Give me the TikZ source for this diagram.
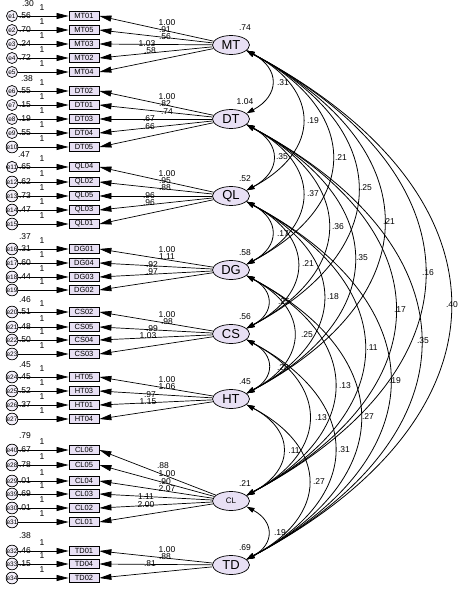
\documentclass[tikz,border=0pt]{standalone}
\usepackage{fontspec}
\setmainfont{Liberation Sans}
\usetikzlibrary{shapes.geometric,arrows.meta}
\definecolor{lav}{RGB}{232,224,244}
\begin{document}
\begin{tikzpicture}[x=1pt,y=-1pt,
  obs/.style={draw,fill=lav,line width=0.8pt,minimum width=30pt,minimum height=9pt,inner sep=0pt,font=\fontsize{7.5}{7.5}\selectfont},
  lat/.style={draw,fill=lav,ellipse,line width=0.7pt,minimum width=37pt,minimum height=19pt,inner sep=0pt,font=\fontsize{13}{13}\selectfont},
  err/.style={draw,fill=lav!50,circle,line width=0.7pt,minimum size=11pt,inner sep=0pt,font=\fontsize{6.5}{6.5}\selectfont},
  lbl/.style={font=\fontsize{8.5}{8.5}\selectfont,inner sep=0pt},
  arr/.style={-{Triangle[length=12pt,width=6pt]},line width=0.7pt},
  cov/.style={{Triangle[length=8pt,width=5pt]}-{Triangle[length=8pt,width=5pt]},line width=0.8pt},
  arc/.style={cov,out=-28,in=28,looseness=1.55},
]
\useasboundingbox (0,0) rectangle (463,589);

% latent variables
\node[lat] (MT) at (231,45) {MT};
\node[lat] (DT) at (231,119) {DT};
\node[lat] (QL) at (231,196) {QL};
\node[lat] (DG) at (231,270) {DG};
\node[lat] (CS) at (231,334) {CS};
\node[lat] (HT) at (231,399) {HT};
\node[lat,font=\fontsize{8}{8}\selectfont] (CL) at (231,501) {CL};
\node[lat] (TD) at (231,565) {TD};

% latent variances
\foreach \n/\v in {MT/.74,DT/1.04,QL/.52,DG/.58,CS/.56,HT/.45,CL/.21,TD/.69}
  \node[lbl] at ([xshift=14pt,yshift=17pt]\n.center) {\v};

% indicators
\foreach \L/\b/\y/\e/\v in {
  MT/MT01/16/e1/.56, MT/MT05/30/e2/.70, MT/MT03/44/e3/.24, MT/MT02/58/e4/.72, MT/MT04/72/e5/,
  DT/DT02/91/e6/.55, DT/DT01/105/e7/.15, DT/DT03/119/e8/.19, DT/DT04/133/e9/.55, DT/DT05/147/e10/,
  QL/QL04/167/e11/.65, QL/QL02/182/e12/.62, QL/QL05/196/e13/.73, QL/QL03/210/e14/.47, QL/QL01/224/e15/,
  DG/DG01/249/e16/.31, DG/DG04/263/e17/.60, DG/DG03/277/e18/.44, DG/DG02/290/e19/,
  CS/CS02/312/e20/.51, CS/CS05/327/e21/.48, CS/CS04/340/e22/.50, CS/CS03/354/e23/,
  HT/HT05/377/e24/.45, HT/HT03/391/e25/.52, HT/HT01/405/e26/.37, HT/HT04/419/e27/,
  CL/CL06/450/e40/.67, CL/CL05/465/e28/.78, CL/CL04/481/e29/.01, CL/CL03/494/e39/.69, CL/CL02/508/e30/.01, CL/CL01/522/e31/,
  TD/TD01/551/e32/.46, TD/TD04/564/e33/.15, TD/TD02/578/e34/}
{
  \node[obs] (\b) at (84,\y) {\b};
  \node[err] (\e) at (12,\y) {\e};
  \draw[arr] (\e) -- (\b.west);
  \draw[arr] (\L) -- (\b.east);
  \node[lbl] at (42,\y-8) {1};
  \node[lbl] at (25,\y) {\v};
}

% error variances (first of each group)
\foreach \x/\y/\v in {28/4/.30, 27/79/.38, 24/155/.47, 25/237/.37, 25/300/.46, 25/365/.45, 25/436/.79, 25/536/.38}
  \node[lbl] at (\x,\y) {\v};

% loadings
\foreach \x/\y/\v in {
  167/23/1.00, 165/30/.91, 165/37/.56, 147/44/1.03, 150/51/.58,
  167/97/1.00, 165/104/.82, 167/112/.74, 149/119/.67, 149/127/.66,
  167/174/1.00, 165/181/.95, 165/188/.88, 149/196/.96, 149/203/.96,
  167/250/1.00, 167/257/1.11, 152/265/.92, 152/272/.97,
  167/315/1.00, 167/322/.98, 152/329/.99, 148/336/1.03,
  167/380/1.00, 167/387/1.06, 150/395/.97, 148/402/1.15,
  163/466/.88, 167/474/1.00, 165/482/.90, 167/489/2.07, 146/497/1.11, 146/505/2.00,
  167/550/1.00, 165/557/.88, 150/564/.81}
  \node[lbl] at (\x,\y) {\v};

% covariances
\draw[arc] (MT.-20) to (DT.20);
\draw[arc] (MT.-20) to (QL.20);
\draw[arc] (MT.-20) to (DG.20);
\draw[arc] (MT.-20) to (CS.20);
\draw[arc] (MT.-20) to (HT.20);
\draw[arc] (MT.-20) to (CL.20);
\draw[arc] (MT.-20) to (TD.20);
\draw[arc] (DT.-20) to (QL.20);
\draw[arc] (DT.-20) to (DG.20);
\draw[arc] (DT.-20) to (CS.20);
\draw[arc] (DT.-20) to (HT.20);
\draw[arc] (DT.-20) to (CL.20);
\draw[arc] (DT.-20) to (TD.20);
\draw[arc] (QL.-20) to (DG.20);
\draw[arc] (QL.-20) to (CS.20);
\draw[arc] (QL.-20) to (HT.20);
\draw[arc] (QL.-20) to (CL.20);
\draw[arc] (QL.-20) to (TD.20);
\draw[arc] (DG.-20) to (CS.20);
\draw[arc] (DG.-20) to (HT.20);
\draw[arc] (DG.-20) to (CL.20);
\draw[arc] (DG.-20) to (TD.20);
\draw[arc] (CS.-20) to (HT.20);
\draw[arc] (CS.-20) to (CL.20);
\draw[arc] (CS.-20) to (TD.20);
\draw[arc] (HT.-20) to (CL.20);
\draw[arc] (HT.-20) to (TD.20);
\draw[arc] (CL.-20) to (TD.20);

\foreach \x/\y/\v in {
  283/83/.31, 313/121/.19, 341/158/.21, 366/188/.25, 389/222/.21, 428/273/.16, 452/305/.40,
  282/157/.35, 313/194/.37, 338/227/.36, 362/258/.35, 400/310/.17, 423/341/.35,
  283/234/.17, 308/264/.21, 333/297/.18, 372/348/.11, 395/381/.19,
  284/302/.25, 307/335/.25, 345/386/.13, 368/417/.27,
  283/368/.28, 321/418/.13, 344/450/.31,
  294/451/.11, 319/482/.27,
  280/533/.19}
  \node[lbl] at (\x,\y) {\v};
\end{tikzpicture}
\end{document}
